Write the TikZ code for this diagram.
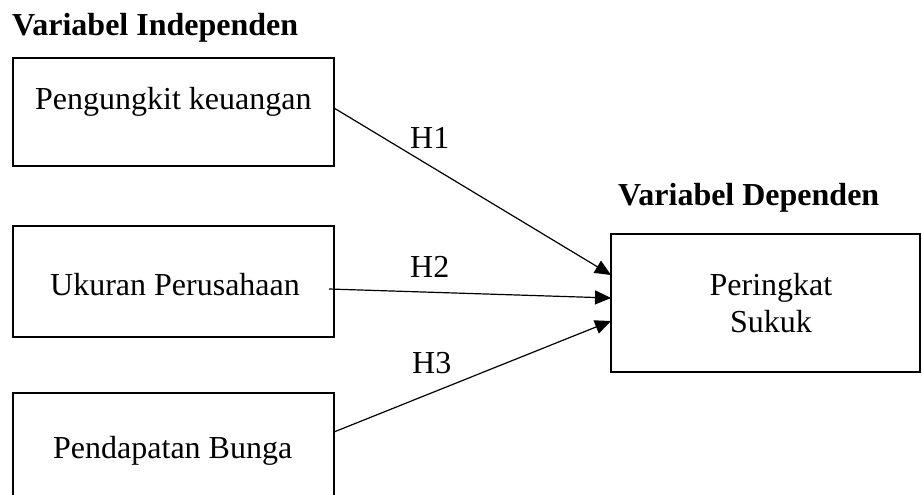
\documentclass[tikz,border=0pt]{standalone}
\usepackage{fontspec}
\setmainfont{Liberation Serif}
\usetikzlibrary{arrows.meta}
\begin{document}
\begin{tikzpicture}[x=1pt,y=-1pt,
  box/.style={draw,line width=2pt,rectangle,inner sep=0pt},
  lbl/.style={anchor=base west,inner sep=0pt,font=\fontsize{32}{37}\selectfont},
  head/.style={anchor=base west,inner sep=0pt,font=\fontsize{32}{37}\selectfont\bfseries},
  arr/.style={line width=1.2pt,-{Triangle[length=16pt,width=14pt]}}]
\useasboundingbox (0,0) rectangle (922,495);
\node[head] (hi) at (12,36) {Variabel Independen};
\node[head] (hd) at (618,205) {Variabel Dependen};
% boxes
\node[box,minimum width=321pt,minimum height=108pt] (b1) at (173,112) {};
\node[box,minimum width=321pt,minimum height=111pt] (b2) at (173,281.5) {};
\node[box,minimum width=321pt,minimum height=130pt] (b3) at (173,458) {};
\node[box,minimum width=309pt,minimum height=138pt] (b4) at (765.5,303) {};
% texts
\node[lbl] (t1) at (35,110) {Pengungkit keuangan};
\node[lbl] (t2) at (50,295) {Ukuran Perusahaan};
\node[lbl] (t3) at (53,458) {Pendapatan Bunga};
\node[anchor=base,inner sep=0pt,font=\fontsize{32}{37}\selectfont] (t4) at (771,295) {Peringkat};
\node[anchor=base,inner sep=0pt,font=\fontsize{32}{37}\selectfont] (t5) at (771,332) {Sukuk};
\node[lbl] (h1) at (410,148) {H1};
\node[lbl] (h2) at (410,277) {H2};
\node[lbl] (h3) at (412,373) {H3};
% arrow end points
\coordinate (s1) at (334,108);
\coordinate (s2) at (329,289);
\coordinate (s3) at (334,432);
\coordinate (e1) at (611,275);
\coordinate (e2) at (611,298);
\coordinate (e3) at (611,321);
\draw[arr] (s1) -- (e1);
\draw[arr] (s2) -- (e2);
\draw[arr] (s3) -- (e3);
\end{tikzpicture}
\end{document}
